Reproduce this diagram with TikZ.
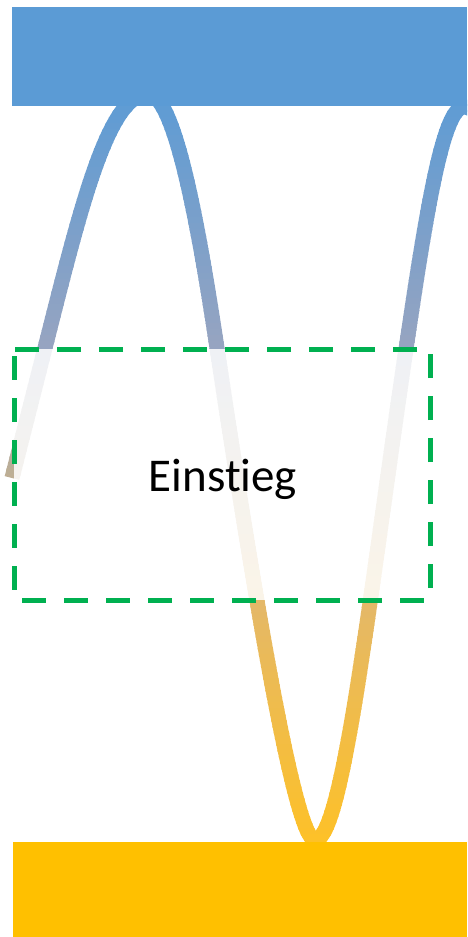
\documentclass[tikz,border=0pt]{standalone}
\usepackage{fontspec}
\setmainfont{Carlito}[Ligatures=NoCommon]
\usepackage{xcolor}
\usepackage{tikz}
\usetikzlibrary{positioning}

\definecolor{barblue}{HTML}{5B9BD5}
\definecolor{barorange}{HTML}{FFC000}
\definecolor{wavegrey}{HTML}{96A4C1}
\definecolor{wavetan}{HTML}{E4B868}
\definecolor{waveorange}{HTML}{FEC126}
\definecolor{boxgreen}{HTML}{00B050}

\begin{document}
\begin{tikzpicture}[x=1pt,y=-1pt,wave/.style={line width=15pt, line join=round}]
        \tikzstyle{entrybox} = [draw=boxgreen, line width=5pt, dash pattern=on 24pt off 18pt, dash phase=35pt, fill=white, fill opacity=0.85]
        \useasboundingbox (0,0) rectangle (467,937);
        \def\wavepath{(12,478) -- (45,348) .. controls (80.5,208) and (108,94) .. (148,94) .. controls (173,94) and (196,208) .. (217,348) .. controls (254.5,598) and (295,840) .. (315,840) .. controls (343,840) and (369,599) .. (406,349) .. controls (428,199) and (444,107) .. (464,107) .. controls (474,107) and (480,118) .. (486,135)}

        % wave, coloured top to bottom in thin bands
        \foreach \ya/\yb/\ca/\cb in {86/348/barblue/wavegrey,348/600/wavegrey/wavetan,600/852/wavetan/waveorange} {
          \foreach \i in {0,...,41} {
            \pgfmathtruncatemacro\pc{round(100*\i/41)}
            \pgfmathsetmacro\yy{\ya+(\yb-\ya)*\i/42}
            \begin{scope}
              \clip (0,\yy) rectangle (467,\yy+7);
              \draw[wave, draw=\cb!\pc!\ca] \wavepath;
            \end{scope}
          }
        }

        \draw[entrybox] (14,349) rectangle (430,600);
        \fill[barblue] (12,7) rectangle (467,106);
        \fill[barorange] (13,842) rectangle (467,937);
        \node[anchor=base, font=\fontsize{47}{56}\selectfont] (einstieg) at (223,491) {Einstieg};
\end{tikzpicture}
\end{document}
